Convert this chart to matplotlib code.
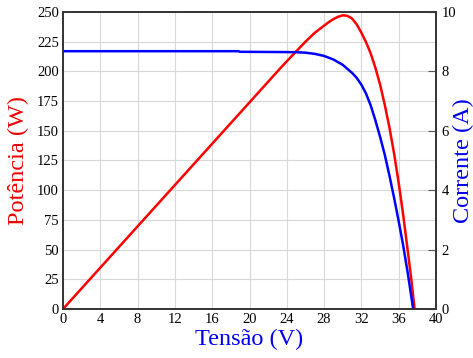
import matplotlib
matplotlib.use("Agg")
import matplotlib.pyplot as plt

plt.rcParams['font.family'] = ['Liberation Serif', 'DejaVu Serif']

# curva de potencia (W) vs tensao (V)
v_pot = [0, 23.3, 24, 25, 26, 27, 28, 28.5, 29, 29.5, 30, 30.5, 31, 31.5,
         32, 32.5, 33, 33.5, 34, 34.5, 35, 35.5, 36, 36.5, 37, 37.35, 37.7]
potencia = [0, 202.6, 208.5, 216.8, 225, 232.5, 238.5, 241.5, 244, 246, 247.2,
            246.8, 244.5, 239.5, 232.5, 224.5, 215, 203, 189, 172, 153, 131,
            106, 78, 47, 25, 0]

# curva de corrente (A) vs tensao (V)
v_cor = [0, 18.8, 19.0, 24, 25, 26, 27, 28, 29, 30, 31, 31.5, 32, 32.5, 33,
         33.5, 34, 34.5, 35, 35.5, 36, 36.5, 37, 37.55]
corrente = [8.68, 8.68, 8.66, 8.65, 8.645, 8.63, 8.59, 8.52, 8.40, 8.22, 7.95,
            7.78, 7.55, 7.25, 6.85, 6.35, 5.8, 5.2, 4.5, 3.75, 2.95, 2.1,
            1.15, 0]

x_ticks = list(range(0, 41, 4))
p_ticks = list(range(0, 251, 25))
i_ticks = list(range(0, 11, 2))

fig = plt.figure(figsize=(4.73, 3.58), dpi=100)
ax = fig.add_axes([0.1332, 0.1369, 0.7886, 0.8296])
ax2 = ax.twinx()

ax.plot(v_pot, potencia, color='#ff0000', lw=1.8)
ax2.plot(v_cor, corrente, color='#0000ff', lw=1.8)

ax.set_xlim(0, 40)
ax.set_ylim(0, 250)
ax2.set_ylim(0, 10)
ax.set_xticks(x_ticks)
ax.set_yticks(p_ticks)
ax2.set_yticks(i_ticks)

ax.grid(True, color='#d8d8d8', lw=0.8)
ax.set_axisbelow(True)

ax.tick_params(axis='both', length=0, labelsize=10.5, pad=3)
ax2.tick_params(axis='y', direction='in', length=6, color='#555555', labelsize=10.5, pad=4)

for a in (ax, ax2):
    for s in a.spines.values():
        s.set_color('#333333')
        s.set_linewidth(1.2)

ax.set_xlabel('Tensão (V)', color='#0000ee', fontsize=17.5, labelpad=2)
ax.set_ylabel('Potência (W)', color='#ee0000', fontsize=17.5)
ax2.set_ylabel('Corrente (A)', color='#0000ee', fontsize=17.5)
ax.yaxis.set_label_coords(-0.092, 0.5)
ax2.yaxis.set_label_coords(1.046, 0.5)

fig.savefig('out.png', dpi=100)
